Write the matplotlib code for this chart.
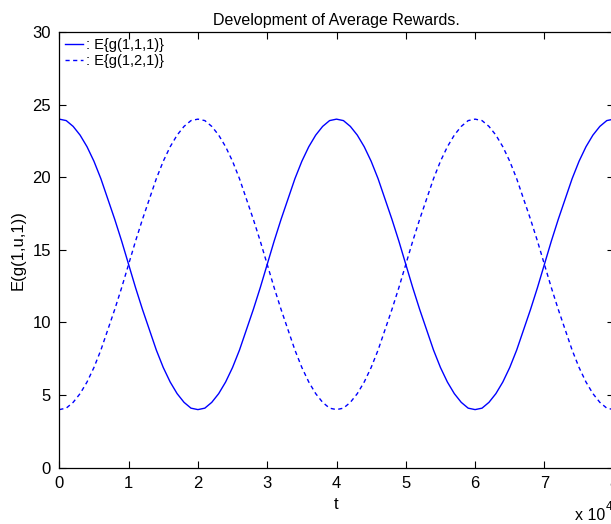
import matplotlib.pyplot as plt
import numpy as np

plt.rcParams['font.family'] = ['Liberation Sans', 'DejaVu Sans']

# time axis in units of 1e4 (read at 0.1 steps)
t_vals = [i / 10 for i in range(81)]

# one half-period, 24 -> 4
half_down = [24.0, 23.9, 23.5, 22.9, 22.1, 21.1, 19.9, 18.5, 17.1, 15.6,
             14.0, 12.4, 10.9, 9.5, 8.1, 6.9, 5.9, 5.1, 4.5, 4.1]
half_up = [4.0, 4.1, 4.5, 5.1, 5.9, 6.9, 8.1, 9.5, 10.9, 12.4,
           14.0, 15.6, 17.1, 18.5, 19.9, 21.1, 22.1, 22.9, 23.5, 23.9]

reward_111 = half_down + half_up + half_down + half_up + [24.0]
reward_121 = half_up + half_down + half_up + half_down + [4.0]

x_ticks = [0, 1, 2, 3, 4, 5, 6, 7, 8]
y_ticks = [0, 5, 10, 15, 20, 25, 30]

W, H = 611, 524
fig = plt.figure(figsize=(W / 100, H / 100), dpi=100)
left, right, top, bottom = 59.3, 613.7, 32.0, 467.7
ax = fig.add_axes([left / W, 1 - bottom / H, (right - left) / W, (bottom - top) / H])

ax.plot(t_vals, reward_111, color='#0000ff', lw=1.0, label=': E{g(1,1,1)}')
ax.plot(t_vals, reward_121, color='#0000ff', lw=1.0, dashes=(3, 2.5),
        label=': E{g(1,2,1)}')

ax.set_xlim(0, 8)
ax.set_ylim(0, 30)
ax.set_xticks(x_ticks)
ax.set_yticks(y_ticks)
ax.tick_params(direction='in', top=True, right=True, length=5, width=0.8,
               labelsize=12, pad=6, colors='black')
for s in ax.spines.values():
    s.set_linewidth(0.9)

ax.set_title('Development of Average Rewards.', fontsize=11.5, pad=5)
ax.set_xlabel('t', fontsize=12, labelpad=4)
ax.set_ylabel('E(g(1,u,1))', fontsize=12, labelpad=5)

fig.text(575 / W, 1 - 516 / H, 'x 10', fontsize=11.5, ha='left', va='center')
fig.text(606 / W, 1 - 507 / H, '4', fontsize=8.5, ha='left', va='center')

ax.legend(loc='upper left', bbox_to_anchor=(0.0103, 0.987), frameon=False,
          fontsize=10.5, handlelength=1.25, handletextpad=0.2,
          borderaxespad=0, labelspacing=0.15, borderpad=0)

fig.savefig('out.png', dpi=100, facecolor='white')
